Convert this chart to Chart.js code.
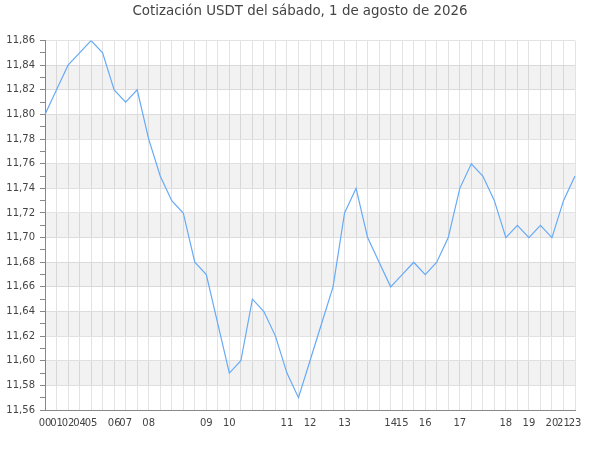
<!DOCTYPE html>
<html><head><meta charset="utf-8">
<script src="https://cdn.jsdelivr.net/npm/chart.js@4/dist/chart.umd.min.js"></script>
<style>html,body{margin:0;padding:0;background:#fff}#wrap{width:600px;height:450px}</style>
</head><body><div id="wrap"><canvas id="c"></canvas></div>
<script>
const titleText = 'Cotización USDT del sábado, 1 de agosto de 2026';
const hourLabels = ['00','01','02','04','05','','06','07','','08','','','','','09','','10','','','','','11','','12','','','13','','','','14','15','','16','','','17','','','','18','','19','','20','21','23'];
const prices = [11.80,11.82,11.84,11.85,11.86,11.85,11.82,11.81,11.82,11.78,11.75,11.73,11.72,11.68,11.67,11.63,11.59,11.60,11.65,11.64,11.62,11.59,11.57,11.60,11.63,11.66,11.72,11.74,11.70,11.68,11.66,11.67,11.68,11.67,11.68,11.70,11.74,11.76,11.75,11.73,11.70,11.71,11.70,11.71,11.70,11.73,11.75];
const yMin = 11.56, yMax = 11.86;
const bandStarts = [11.58,11.62,11.66,11.70,11.74,11.78,11.82];

const bands = {
  id:'bands',
  beforeDatasetsDraw(chart){
    const {ctx, chartArea:a, scales:{y}} = chart;
    ctx.save();
    ctx.fillStyle = 'rgba(0,0,0,0.05)';
    bandStarts.forEach(v=>{
      const y1 = y.getPixelForValue(v+0.02), y2 = y.getPixelForValue(v);
      ctx.fillRect(a.left, y1, a.right-a.left, y2-y1);
    });
    ctx.restore();
  }
};

new Chart(document.getElementById('c'), {
  type:'line',
  data:{labels:hourLabels, datasets:[{data:prices, borderColor:'#66aaf7', borderWidth:1.2, pointRadius:0, tension:0, fill:false}]},
  options:{
    responsive:true, maintainAspectRatio:false, animation:false,
    layout:{padding:0},
    plugins:{
      legend:{display:false}, tooltip:{enabled:false},
      title:{display:true, text:titleText, color:'#444', font:{family:'DejaVu Sans', size:13.4, weight:'normal'}, padding:{top:3.5,bottom:21}}
    },
    scales:{
      x:{
        grid:{color:'#e3e3e3', drawTicks:false},
        border:{color:'#888'},
        ticks:{autoSkip:false, maxRotation:0, minRotation:0, padding:7, color:'#444', font:{family:'DejaVu Sans', size:10}},
        afterFit(s){ s.height = 40; }
      },
      y:{
        min:yMin, max:yMax,
        grid:{color:(c)=> (Math.round(c.tick.value*100)%2===0 ? '#e3e3e3' : 'rgba(0,0,0,0)'), tickColor:'#888', tickLength:5},
        border:{color:'#888'},
        ticks:{stepSize:0.01, autoSkip:false, padding:5, color:'#444', font:{family:'DejaVu Sans', size:10},
          callback:(v)=> (Math.round(v*100)%2===0 ? v.toFixed(2).replace('.',',') : '')},
        afterFit(s){ s.width = 45; }
      },
      yr:{
        position:'right', min:yMin, max:yMax,
        grid:{display:false, drawOnChartArea:false}, border:{display:false},
        ticks:{display:false},
        afterFit(s){ s.width = 25; }
      }
    }
  },
  plugins:[bands]
});
</script></body></html>
